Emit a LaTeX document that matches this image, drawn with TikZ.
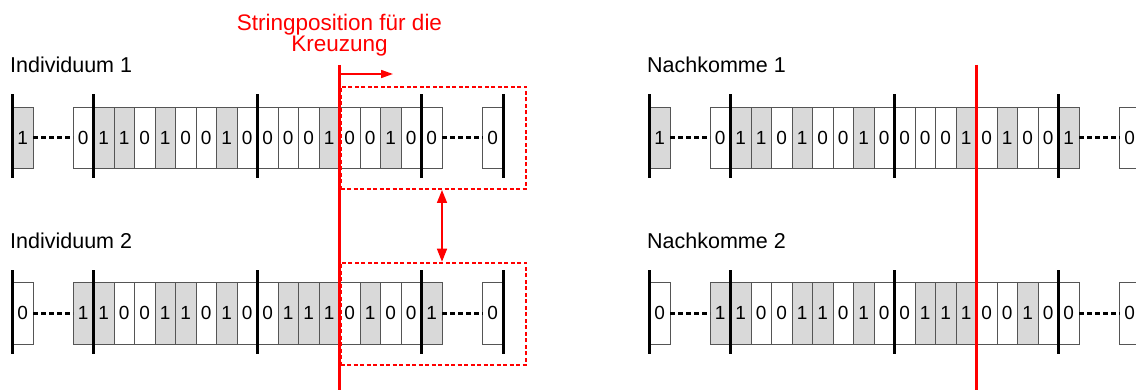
\documentclass[tikz,border=0pt]{standalone}
\usepackage{fontspec}
\setmainfont{Liberation Sans}
\usetikzlibrary{arrows.meta}
\definecolor{cutred}{RGB}{255,0,0}
\definecolor{bitfill}{RGB}{217,217,217}
\definecolor{bitline}{RGB}{85,85,85}

\tikzset{
  bit/.style={draw=bitline, line width=0.9pt, minimum width=20.5pt,
    minimum height=61.3pt, inner sep=0pt, outer sep=0pt, anchor=north west,
    font=\fontsize{19}{19}\selectfont},
  b0/.style={bit, fill=white},
  b1/.style={bit, fill=bitfill},
  locus/.style={line width=3pt, black},
  gapline/.style={line width=2.6pt, dash pattern=on 5pt off 3pt, black},
  cutline/.style={line width=3pt, cutred},
  swapbox/.style={draw=cutred, line width=2pt, dash pattern=on 4pt off 2.5pt,
    anchor=north west, inner sep=0pt, minimum width=185.5pt, minimum height=102pt},
  redarrow/.style={cutred, line width=1.6pt},
  title/.style={font=\fontsize{21.5}{22}\selectfont, anchor=base west, inner sep=0pt},
}

% #1 name, #2 x offset, #3 top y, #4 left bit, #5 the 18 bits, #6 right bit
\newcommand\drawchromo[6]{%
  \node[b#4] (#1-l) at (12.5+#2,#3) {#4};
  \foreach \b [count=\i from 0] in {#5}
    \node[b\b] (#1-\i) at (73+#2+20.5*\i,#3) {\b};
  \node[b#6] (#1-r) at (482.5+#2,#3) {#6};
  \draw[gapline] (#1-l.east) -- (#1-0.west);
  \draw[gapline] (#1-17.east) -- (#1-r.west);
  \foreach \n/\a in {#1-l/west,#1-1/west,#1-9/west,#1-17/west,#1-r/east}
    \draw[locus] ([yshift=12.5pt]\n.north \a) -- ([yshift=-9.5pt]\n.south \a);
}

\begin{document}
\begin{tikzpicture}[x=1pt,y=-1pt]
  \useasboundingbox (0,0) rectangle (1136,390);
  \clip (0,0) rectangle (1136,390);

  % parents
  \node[title] (t1) at (10,72.7) {Individuum 1};
  \node[title] (t2) at (10,249) {Individuum 2};
  \drawchromo{ind1}{0}{107}{1}{0,1,1,0,1,0,0,1,0,0,0,0,1,0,0,1,0,0}{0}
  \drawchromo{ind2}{0}{282.7}{0}{1,1,0,0,1,1,0,1,0,0,1,1,1,0,1,0,0,1}{0}

  % offspring
  \node[title] (t3) at (647,72.7) {Nachkomme 1};
  \node[title] (t4) at (647,249) {Nachkomme 2};
  \drawchromo{off1}{637}{107}{1}{0,1,1,0,1,0,0,1,0,0,0,0,1,0,1,0,0,1}{0}
  \drawchromo{off2}{637}{282.7}{0}{1,1,0,0,1,1,0,1,0,0,1,1,1,0,0,1,0,0}{0}

  % exchanged tails
  \node[swapbox] (sw1) at (339.5,86) {};
  \node[swapbox] (sw2) at (339.5,261.7) {};
  \draw[redarrow, {Triangle[length=13pt,width=10pt]}-{Triangle[length=13pt,width=10pt]}]
    (sw1.south -| ind1-17.east) -- (sw2.north -| ind1-17.east);

  % crossover point
  \node[align=center, text=cutred, font=\fontsize{22.5}{21}\selectfont,
    anchor=base, inner sep=0pt] (cuttext) at (339.5,52) {Stringposition für die\\Kreuzung};
  \coordinate (cutA) at (339.5,74);
  \coordinate (cutB) at (393,74);
  \draw[redarrow, -{Triangle[length=12pt,width=8pt]}] (cutA) -- (cutB);
  \coordinate (cut1t) at (339.5,65);
  \coordinate (cut1b) at (339.5,395);
  \draw[cutline] (cut1t) -- (cut1b);
  \coordinate (cut2t) at (976.5,65);
  \coordinate (cut2b) at (976.5,395);
  \draw[cutline] (cut2t) -- (cut2b);
\end{tikzpicture}
\end{document}
